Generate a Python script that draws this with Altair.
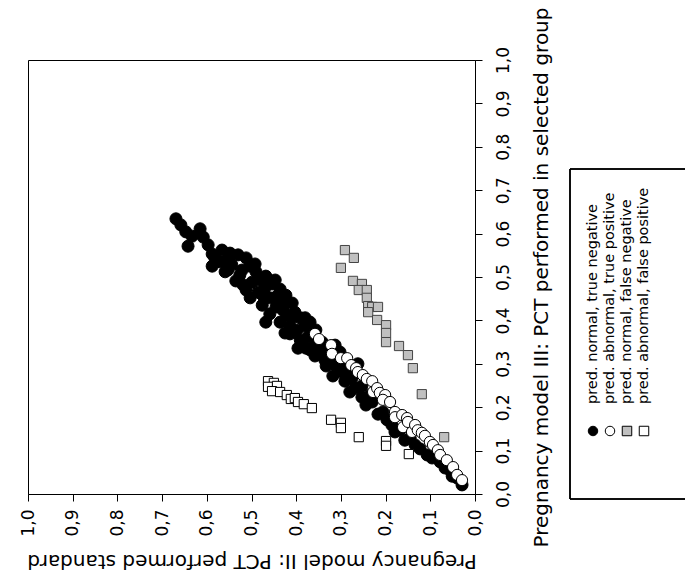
import altair as alt
import pandas as pd

groups = ["pred. normal, true negative", "pred. abnormal, true positive",
          "pred. normal, false negative", "pred. abnormal, false positive"]

# Pregnancy model II (standard) and model III (selected group) values
tn_m2 = [0.669, 0.658, 0.647, 0.633, 0.642, 0.615, 0.608, 0.597, 0.588, 0.588,
         0.566, 0.548, 0.530, 0.512, 0.570, 0.559, 0.544, 0.535, 0.521, 0.503,
         0.490, 0.512, 0.499, 0.481, 0.468, 0.503, 0.485, 0.470, 0.454, 0.436,
         0.476, 0.459, 0.443, 0.423, 0.459, 0.445, 0.427, 0.409, 0.436, 0.421,
         0.403, 0.391, 0.414, 0.398, 0.380, 0.369, 0.391, 0.374, 0.356, 0.378,
         0.358, 0.342, 0.358, 0.338, 0.324, 0.333, 0.313, 0.318, 0.298, 0.291,
         0.275, 0.268, 0.253, 0.253, 0.235, 0.230, 0.206, 0.197, 0.186, 0.168,
         0.145, 0.134, 0.123, 0.107, 0.096, 0.078, 0.067, 0.056, 0.040, 0.029,
         0.553, 0.526, 0.470, 0.430, 0.409, 0.468, 0.414, 0.313, 0.291, 0.262,
         0.302, 0.280, 0.244, 0.217, 0.179, 0.157, 0.051,
         0.582, 0.553, 0.519, 0.492, 0.476, 0.447, 0.436, 0.380, 0.365, 0.351,
         0.336, 0.302, 0.284, 0.369, 0.396, 0.425]
tn_m3 = [0.634, 0.620, 0.604, 0.594, 0.571, 0.611, 0.592, 0.574, 0.553, 0.525,
         0.562, 0.555, 0.551, 0.544, 0.535, 0.512, 0.528, 0.491, 0.516, 0.525,
         0.512, 0.470, 0.488, 0.493, 0.502, 0.452, 0.465, 0.475, 0.484, 0.472,
         0.435, 0.452, 0.456, 0.458, 0.415, 0.431, 0.438, 0.440, 0.396, 0.412,
         0.419, 0.406, 0.387, 0.378, 0.387, 0.396, 0.355, 0.362, 0.378, 0.336,
         0.343, 0.350, 0.318, 0.327, 0.313, 0.295, 0.297, 0.272, 0.281, 0.260,
         0.267, 0.244, 0.249, 0.223, 0.228, 0.212, 0.189, 0.171, 0.159, 0.147,
         0.129, 0.113, 0.104, 0.090, 0.083, 0.074, 0.060, 0.055, 0.037, 0.021,
         0.541, 0.505, 0.452, 0.424, 0.406, 0.396, 0.369, 0.343, 0.304, 0.300,
         0.327, 0.235, 0.205, 0.184, 0.143, 0.124, 0.041,
         0.544, 0.516, 0.482, 0.530, 0.459, 0.493, 0.435, 0.406, 0.366, 0.332,
         0.309, 0.297, 0.281, 0.332, 0.336, 0.371]

tp_m2 = [0.358, 0.349, 0.322, 0.320, 0.300, 0.286, 0.277, 0.266, 0.262, 0.251,
         0.242, 0.230, 0.228, 0.219, 0.213, 0.201, 0.206, 0.190, 0.179, 0.179,
         0.163, 0.161, 0.152, 0.150, 0.141, 0.134, 0.128, 0.119, 0.112, 0.101,
         0.094, 0.083, 0.078, 0.063, 0.049, 0.040, 0.029]
tp_m3 = [0.369, 0.357, 0.343, 0.323, 0.313, 0.313, 0.297, 0.290, 0.281, 0.274,
         0.265, 0.260, 0.235, 0.244, 0.233, 0.228, 0.217, 0.212, 0.189, 0.177,
         0.182, 0.154, 0.175, 0.166, 0.143, 0.159, 0.147, 0.141, 0.134, 0.120,
         0.113, 0.101, 0.090, 0.078, 0.062, 0.044, 0.032]

fn_m2 = [0.291, 0.271, 0.300, 0.273, 0.253, 0.260, 0.242, 0.242, 0.239, 0.230,
         0.217, 0.239, 0.219, 0.199, 0.199, 0.199, 0.170, 0.150, 0.139, 0.119,
         0.069]
fn_m3 = [0.562, 0.544, 0.521, 0.491, 0.484, 0.470, 0.470, 0.452, 0.433, 0.431,
         0.431, 0.419, 0.401, 0.389, 0.371, 0.350, 0.341, 0.320, 0.290, 0.230,
         0.131]

fp_m2 = [0.463, 0.450, 0.463, 0.443, 0.454, 0.436, 0.421, 0.412, 0.403, 0.396,
         0.383, 0.365, 0.322, 0.300, 0.300, 0.260, 0.199, 0.199, 0.148]
fp_m3 = [0.260, 0.256, 0.247, 0.249, 0.237, 0.235, 0.228, 0.219, 0.221, 0.212,
         0.207, 0.198, 0.171, 0.164, 0.152, 0.131, 0.122, 0.111, 0.092]

tick_values = [0.0, 0.1, 0.2, 0.3, 0.4, 0.5, 0.6, 0.7, 0.8, 0.9, 1.0]

FONT = "DejaVu Sans"
label_expr = "replace(format(datum.value, '.1f'), '.', ',')"


def frame(m2, m3, g):
    return pd.DataFrame({"m2": m2, "m3": m3, "group": g})


x_enc = alt.X("m2:Q",
              scale=alt.Scale(domain=[0, 1], reverse=True, nice=False, zero=False),
              axis=alt.Axis(title="Pregnancy model II: PCT performed standard",
                            values=tick_values, labelExpr=label_expr,
                            orient="bottom", labelAngle=270, labelAlign="right",
                            labelBaseline="middle", labelFlush=False, labelOverlap=False,
                            labelPadding=8, labelFontSize=17, labelFont=FONT, labelColor="black",
                            titleAngle=180, titleBaseline="bottom", titlePadding=14,
                            titleFontSize=20, titleFont=FONT, titleFontWeight="normal",
                            titleColor="black", grid=False, tickSize=7, tickColor="black",
                            domainColor="black"))
y_enc = alt.Y("m3:Q",
              scale=alt.Scale(domain=[0, 1], nice=False, zero=False),
              axis=alt.Axis(title="Pregnancy model III: PCT performed in selected group",
                            values=tick_values, labelExpr=label_expr,
                            orient="right", labelAngle=270, labelAlign="center",
                            labelBaseline="top", labelFlush=False, labelOverlap=False,
                            labelPadding=13, labelFontSize=17, labelFont=FONT, labelColor="black",
                            titleAngle=270, titleBaseline="top", titlePadding=20,
                            titleFontSize=20, titleFont=FONT, titleFontWeight="normal",
                            titleColor="black", grid=False, tickSize=7, tickColor="black",
                            domainColor="black"))

tn = alt.Chart(frame(tn_m2, tn_m3, groups[0])).mark_point(
    shape="circle", filled=True, size=145, fill="black", stroke="black", strokeWidth=1, opacity=1
).encode(x=x_enc, y=y_enc)
tp = alt.Chart(frame(tp_m2, tp_m3, groups[1])).mark_point(
    shape="circle", filled=True, size=125, fill="white", stroke="black", strokeWidth=1, opacity=1
).encode(x="m2:Q", y="m3:Q")
fn = alt.Chart(frame(fn_m2, fn_m3, groups[2])).mark_point(
    shape="square", filled=True, size=85, fill="#c0c0c0", stroke="#444444", strokeWidth=1, opacity=1
).encode(x="m2:Q", y="m3:Q")
fp = alt.Chart(frame(fp_m2, fp_m3, groups[3])).mark_point(
    shape="square", filled=True, size=85, fill="white", stroke="black", strokeWidth=1, opacity=1
).encode(x="m2:Q", y="m3:Q")

main = alt.layer(tn, tp, fn, fp).properties(width=447, height=434)

# legend panel
leg_df = pd.DataFrame({"group": groups})
lx = alt.X("group:N", sort=groups, axis=None,
           scale=alt.Scale(type="point", domain=groups, range=[23, 74], padding=0))
leg_sym = alt.Chart(leg_df).mark_point(filled=True, stroke="black", strokeWidth=1, opacity=1).encode(
    x=lx, y=alt.value(371),
    fill=alt.Fill("group:N", scale=alt.Scale(domain=groups, range=["black", "white", "#c0c0c0", "white"]), legend=None),
    shape=alt.Shape("group:N", scale=alt.Scale(domain=groups, range=["circle", "circle", "square", "square"]), legend=None),
    size=alt.Size("group:N", scale=alt.Scale(domain=groups, range=[90, 90, 64, 64]), legend=None),
)
leg_txt = alt.Chart(leg_df).mark_text(angle=270, align="left", baseline="middle",
                                      font=FONT, fontSize=14.5, color="black").encode(
    x=lx, y=alt.value(344), text="group:N")
box_top = alt.Chart(leg_df).mark_rule(color="black", strokeWidth=1).encode(
    x=alt.value(0), x2=alt.value(115), y=alt.value(109))
box_left = alt.Chart(leg_df).mark_rule(color="black", strokeWidth=1).encode(
    x=alt.value(0), y=alt.value(109), y2=alt.value(439))
box_bot = alt.Chart(leg_df).mark_rule(color="black", strokeWidth=1).encode(
    x=alt.value(0), x2=alt.value(115), y=alt.value(439))
legend = alt.layer(box_top, box_left, box_bot, leg_sym, leg_txt).properties(
    width=115, height=439, view=alt.ViewConfig(stroke=None))

chart = alt.hconcat(main, legend, spacing=17).resolve_scale(
    x="independent", y="independent", fill="independent", shape="independent", size="independent"
).properties(
    padding={"left": 18, "top": 6, "right": 0, "bottom": 10},
    background="white",
).configure_view(stroke="black", strokeWidth=1)

chart.save("out.html", embed_options={"renderer": "svg", "actions": False})
